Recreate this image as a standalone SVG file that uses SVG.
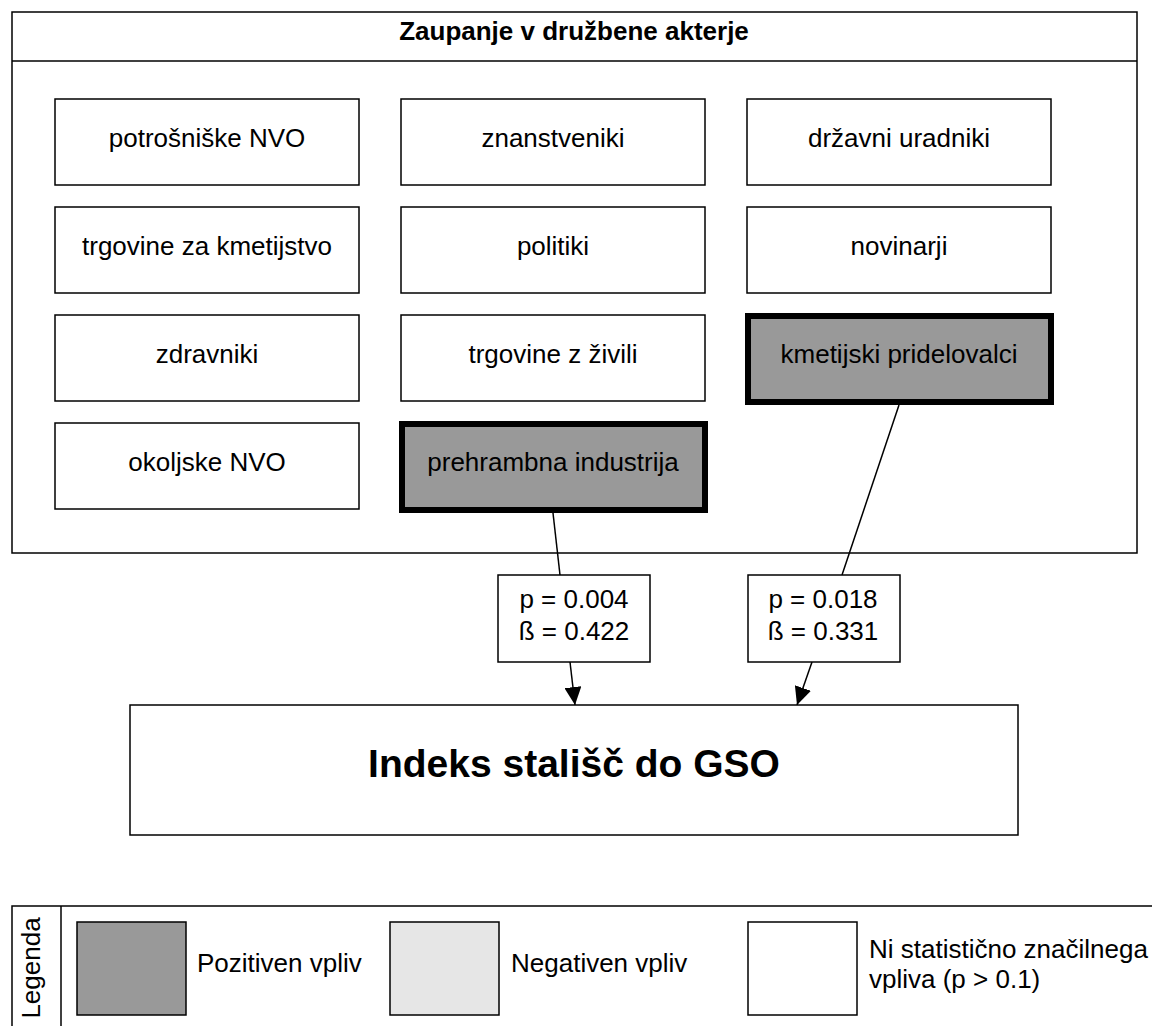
<svg xmlns="http://www.w3.org/2000/svg" width="1152" height="1026" viewBox="0 0 1152 1026">
  <style>
    .box { fill: #ffffff; stroke: #000000; stroke-width: 1.5; }
    .pos { fill: #999999; stroke: #000000; stroke-width: 6; }
    .neg { fill: #e6e6e6; stroke: #000000; stroke-width: 1.5; }
    .t { font-family: "Liberation Sans", Arial, Helvetica, sans-serif; font-size: 26px; fill: #000000; }
    .c { text-anchor: middle; }
    .title { font-family: "Liberation Sans", Arial, Helvetica, sans-serif; font-size: 26px; font-weight: bold; fill: #000000; text-anchor: middle; }
    .big { font-family: "Liberation Sans", Arial, Helvetica, sans-serif; font-size: 39px; font-weight: bold; fill: #000000; text-anchor: middle; }
    .edge { fill: none; stroke: #000000; stroke-width: 1.5; }
  </style>
  <defs>
    <marker id="arrow" markerWidth="18" markerHeight="17" viewBox="0 0 18 17" refX="18" refY="8.5" orient="auto" markerUnits="userSpaceOnUse">
      <path d="M0,0 L18,8.5 L0,17 Z" fill="#000000"/>
    </marker>
  </defs>

  <rect width="1152" height="1026" fill="#ffffff"/>

  <!-- Container: trust in social actors -->
  <g id="container">
    <rect class="box" x="12" y="12" width="1125" height="541"/>
    <line class="edge" x1="12" y1="61" x2="1137" y2="61"/>
    <text class="title" x="574" y="39.5">Zaupanje v družbene akterje</text>
  </g>

  <!-- Actor nodes -->
  <g id="potrosniske-nvo">
    <rect class="box" x="55" y="99" width="304" height="86"/>
    <text class="t c" x="207" y="146.5">potrošniške NVO</text>
  </g>
  <g id="znanstveniki">
    <rect class="box" x="401" y="99" width="304" height="86"/>
    <text class="t c" x="553" y="146.5">znanstveniki</text>
  </g>
  <g id="drzavni-uradniki">
    <rect class="box" x="747" y="99" width="304" height="86"/>
    <text class="t c" x="899" y="146.5">državni uradniki</text>
  </g>

  <g id="trgovine-za-kmetijstvo">
    <rect class="box" x="55" y="207" width="304" height="86"/>
    <text class="t c" x="207" y="254.5">trgovine za kmetijstvo</text>
  </g>
  <g id="politiki">
    <rect class="box" x="401" y="207" width="304" height="86"/>
    <text class="t c" x="553" y="254.5">politiki</text>
  </g>
  <g id="novinarji">
    <rect class="box" x="747" y="207" width="304" height="86"/>
    <text class="t c" x="899" y="254.5">novinarji</text>
  </g>

  <g id="zdravniki">
    <rect class="box" x="55" y="315" width="304" height="86"/>
    <text class="t c" x="207" y="362.5">zdravniki</text>
  </g>
  <g id="trgovine-z-zivili">
    <rect class="box" x="401" y="315" width="304" height="86"/>
    <text class="t c" x="553" y="362.5">trgovine z živili</text>
  </g>
  <g id="kmetijski-pridelovalci">
    <rect class="pos" x="748" y="316" width="303" height="86"/>
    <text class="t c" x="899" y="362.5">kmetijski pridelovalci</text>
  </g>

  <g id="okoljske-nvo">
    <rect class="box" x="55" y="423" width="304" height="86"/>
    <text class="t c" x="207" y="470.5">okoljske NVO</text>
  </g>
  <g id="prehrambna-industrija">
    <rect class="pos" x="402" y="424" width="303" height="86"/>
    <text class="t c" x="553" y="470.5">prehrambna industrija</text>
  </g>

  <!-- Connectors -->
  <g id="connectors">
    <line class="edge" x1="553" y1="513" x2="560" y2="575"/>
    <line class="edge" x1="570" y1="662" x2="575" y2="705" marker-end="url(#arrow)"/>
    <line class="edge" x1="899" y1="405" x2="842" y2="575"/>
    <line class="edge" x1="812" y1="662" x2="797" y2="705" marker-end="url(#arrow)"/>
  </g>

  <!-- Effect labels -->
  <g id="label-prehrambna">
    <rect class="box" x="498" y="575" width="152" height="87"/>
    <text class="t c" x="574" y="608">p = 0.004</text>
    <text class="t c" x="574" y="640">ß = 0.422</text>
  </g>
  <g id="label-kmetijski">
    <rect class="box" x="748" y="575" width="152" height="87"/>
    <text class="t c" x="823" y="608">p = 0.018</text>
    <text class="t c" x="823" y="640">ß = 0.331</text>
  </g>

  <!-- Outcome -->
  <g id="indeks-stalisc">
    <rect class="box" x="130" y="705" width="888" height="130"/>
    <text class="big" x="574" y="777">Indeks stališč do GSO</text>
  </g>

  <!-- Legend -->
  <g id="legend">
    <rect class="box" x="12" y="906" width="1150" height="130"/>
    <line class="edge" x1="61" y1="906" x2="61" y2="1030"/>
    <text class="t c" transform="translate(40,968) rotate(-90)">Legenda</text>
    <rect class="pos" x="77" y="922" width="109" height="93" style="stroke-width:1.5"/>
    <text class="t" x="197" y="972">Pozitiven vpliv</text>
    <rect class="neg" x="390" y="922" width="109" height="93"/>
    <text class="t" x="511" y="972">Negativen vpliv</text>
    <rect class="box" x="748" y="922" width="109" height="93"/>
    <text class="t" x="869" y="958">Ni statistično značilnega</text>
    <text class="t" x="869" y="988">vpliva (p &gt; 0.1)</text>
  </g>
</svg>
